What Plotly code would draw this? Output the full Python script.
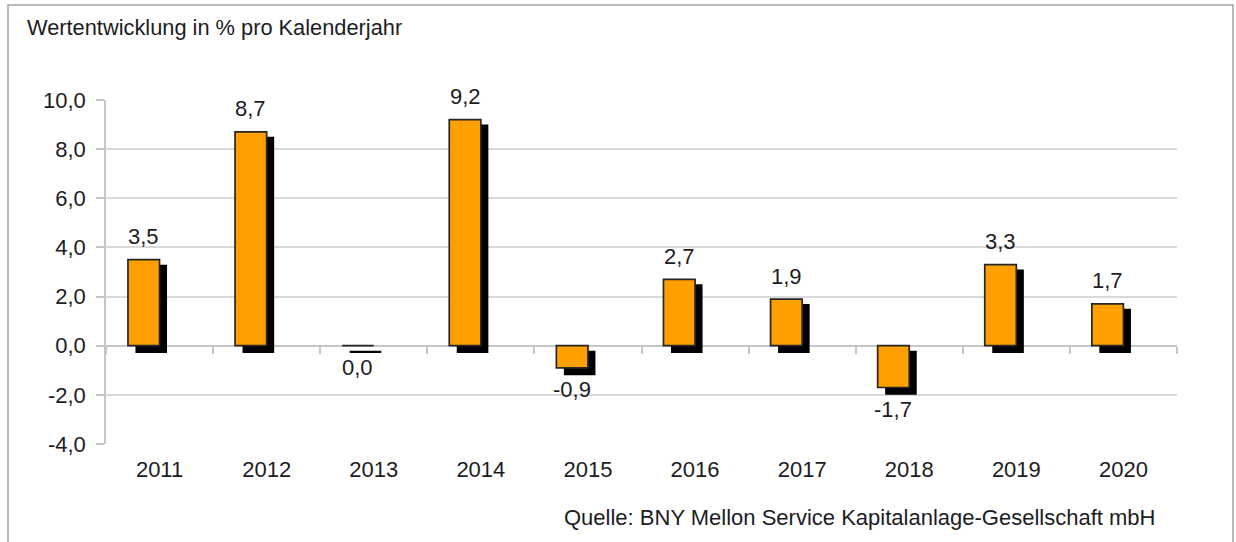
import plotly.graph_objects as go

# ---- data ----
years = ["2011", "2012", "2013", "2014", "2015", "2016", "2017", "2018", "2019", "2020"]
values = [3.5, 8.7, 0.0, 9.2, -0.9, 2.7, 1.9, -1.7, 3.3, 1.7]
y_tick_vals = [-4, -2, 0, 2, 4, 6, 8, 10]
y_tick_text = ["-4,0", "-2,0", "0,0", "2,0", "4,0", "6,0", "8,0", "10,0"]
title_text = "Wertentwicklung in % pro Kalenderjahr"
source_text = "Quelle: BNY Mellon Service Kapitalanlage-Gesellschaft mbH"

# ---- layout constants (pixels) ----
W, H = 1236, 542
ML, MR, MT, MB = 106, 59, 100, 98
PW = W - ML - MR
PH = H - MT - MB
YMIN, YMAX = -4, 10

idx = list(range(len(years)))
BAR_W = 0.295
BAR_OFF = -0.295
SH_DX = 0.07        # shadow shift right (category units)
SH_TOP = 0.2        # shadow top drop (value units)
SH_BOT = 0.3        # shadow bottom drop (value units)

FONT = "Liberation Sans, Arial, sans-serif"
FS = 22
TXT = "#1c1c24"
GRID = "#d9d9d9"
AX = "#c6c6c6"

sh_base = [min(v, 0) - SH_BOT for v in values]
sh_top = [max(v, 0) - SH_TOP for v in values]
sh_h = [t - b for t, b in zip(sh_top, sh_base)]

fig = go.Figure()

# shadow
fig.add_trace(go.Bar(
    x=idx, y=sh_h, base=sh_base, width=BAR_W, offset=BAR_OFF + SH_DX,
    marker=dict(color="#000000", line=dict(width=0)),
    hoverinfo="skip", showlegend=False,
))
# main bars
fig.add_trace(go.Bar(
    x=idx, y=values, width=BAR_W, offset=BAR_OFF,
    marker=dict(color="#FF9F00", line=dict(color="#262626", width=1.7)),
    showlegend=False,
))
# invisible trace for boundary ticks axis
fig.add_trace(go.Scatter(
    x=[-0.5, len(years) - 0.5], y=[0, 0], xaxis="x2", mode="markers",
    marker=dict(opacity=0), hoverinfo="skip", showlegend=False,
))

annotations = []
for i, v in zip(idx, values):
    label = f"{v:.1f}".replace(".", ",")
    annotations.append(dict(
        x=i + BAR_OFF + BAR_W / 2, y=v, xref="x", yref="y",
        text=label, showarrow=False, xanchor="center", yanchor="middle",
        yshift=23 if v > 0 else -22,
        font=dict(family=FONT, size=FS, color=TXT),
    ))


def px_to_xpaper(px):
    return (px - ML) / PW


def py_to_ypaper(py):
    return (H - MB - py) / PH


annotations.append(dict(
    x=px_to_xpaper(25), y=py_to_ypaper(27), xref="paper", yref="paper",
    text=title_text, showarrow=False, xanchor="left", yanchor="middle",
    font=dict(family=FONT, size=21.8, color=TXT),
))
annotations.append(dict(
    x=px_to_xpaper(1157), y=py_to_ypaper(517), xref="paper", yref="paper",
    text=source_text, showarrow=False, xanchor="right", yanchor="middle",
    font=dict(family=FONT, size=FS, color=TXT),
))

shapes = [dict(
    type="rect", xref="paper", yref="paper",
    x0=px_to_xpaper(8), x1=px_to_xpaper(1233),
    y0=py_to_ypaper(H + 20), y1=py_to_ypaper(5),
    line=dict(color="#a3a3a3", width=1.5), fillcolor="rgba(0,0,0,0)", layer="below",
)]

fig.update_layout(
    width=W, height=H,
    margin=dict(l=ML, r=MR, t=MT, b=MB, pad=0),
    paper_bgcolor="white", plot_bgcolor="white",
    barmode="overlay",
    font=dict(family=FONT, size=FS, color=TXT),
    xaxis=dict(
        range=[-0.5, len(years) - 0.5], tickvals=idx, ticktext=years,
        showgrid=False, zeroline=False, showline=False, ticks="",
        ticklabelstandoff=10,
        tickfont=dict(family=FONT, size=FS, color=TXT), fixedrange=True,
    ),
    xaxis2=dict(
        overlaying="x", anchor="free", position=(0 - YMIN) / (YMAX - YMIN),
        side="bottom",
        range=[-0.5, len(years) - 0.5],
        tickvals=[i - 0.5 for i in range(len(years) + 1)],
        ticks="outside", ticklen=7, tickwidth=1.5, tickcolor=AX,
        showticklabels=False, showgrid=False, zeroline=False, showline=False,
    ),
    yaxis=dict(
        range=[YMIN, YMAX], tickvals=y_tick_vals, ticktext=y_tick_text,
        showgrid=True, gridcolor=GRID, gridwidth=1.5,
        zeroline=True, zerolinecolor=AX, zerolinewidth=1.5,
        showline=True, linecolor=AX, linewidth=1.5,
        ticks="outside", ticklen=8, tickwidth=1.5, tickcolor=AX,
        ticklabelstandoff=6,
        tickfont=dict(family=FONT, size=FS, color=TXT),
    ),
    annotations=annotations,
    shapes=shapes,
)

fig.write_html(
    "out.html",
    config={"displayModeBar": False},
    post_script="document.body.style.margin='0';document.body.style.overflow='hidden';",
)
